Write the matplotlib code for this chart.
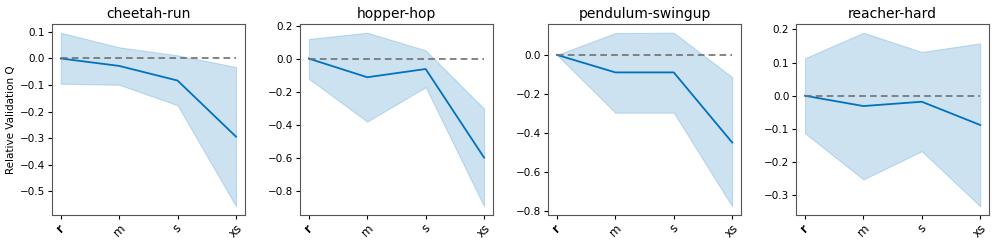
import matplotlib
matplotlib.use("Agg")
import matplotlib.pyplot as plt

sizes = ["r", "m", "s", "xs"]
tasks = ["cheetah-run", "hopper-hop", "pendulum-swingup", "reacher-hard"]

cheetah_mean = [0.0, -0.028, -0.083, -0.294]
cheetah_hi = [0.097, 0.042, 0.012, -0.032]
cheetah_lo = [-0.095, -0.099, -0.176, -0.556]

hopper_mean = [0.0, -0.113, -0.063, -0.600]
hopper_hi = [0.119, 0.157, 0.050, -0.303]
hopper_lo = [-0.122, -0.382, -0.173, -0.895]

pendulum_mean = [0.0, -0.090, -0.090, -0.450]
pendulum_hi = [0.0, 0.112, 0.114, -0.114]
pendulum_lo = [0.0, -0.297, -0.297, -0.778]

reacher_mean = [0.0, -0.031, -0.018, -0.088]
reacher_hi = [0.113, 0.190, 0.132, 0.158]
reacher_lo = [-0.113, -0.252, -0.167, -0.333]

means = [cheetah_mean, hopper_mean, pendulum_mean, reacher_mean]
his = [cheetah_hi, hopper_hi, pendulum_hi, reacher_hi]
los = [cheetah_lo, hopper_lo, pendulum_lo, reacher_lo]

line_col = "#0072bd"

fig, axes = plt.subplots(1, 4, figsize=(9.96, 2.47), dpi=100)
fig.subplots_adjust(left=52/996, right=989/996, top=1-24/247, bottom=1-215/247, wspace=0.287)

x = list(range(len(sizes)))
for ax, name, m, hi, lo in zip(axes, tasks, means, his, los):
    ax.fill_between(x, lo, hi, color=line_col, alpha=0.2, linewidth=0.8)
    ax.plot(x, m, color=line_col, linewidth=1.3)
    ax.plot(x, [0] * len(x), color="#707070", linestyle="--", linewidth=1.2, dashes=(4, 2.5))
    ax.set_title(name, fontsize=10, pad=4)
    ax.set_xticks(x)
    ax.set_xticklabels(sizes, rotation=45, fontsize=8.5)
    ax.get_xticklabels()[0].set_fontweight("bold")
    ax.tick_params(axis="y", labelsize=7.5, length=3, pad=2)
    ax.tick_params(axis="x", length=3, pad=2)
    for sp in ax.spines.values():
        sp.set_color("#555555")

axes[0].set_ylabel("Relative Validation Q", fontsize=7.5, labelpad=3)

plt.savefig("out.png", dpi=100)
